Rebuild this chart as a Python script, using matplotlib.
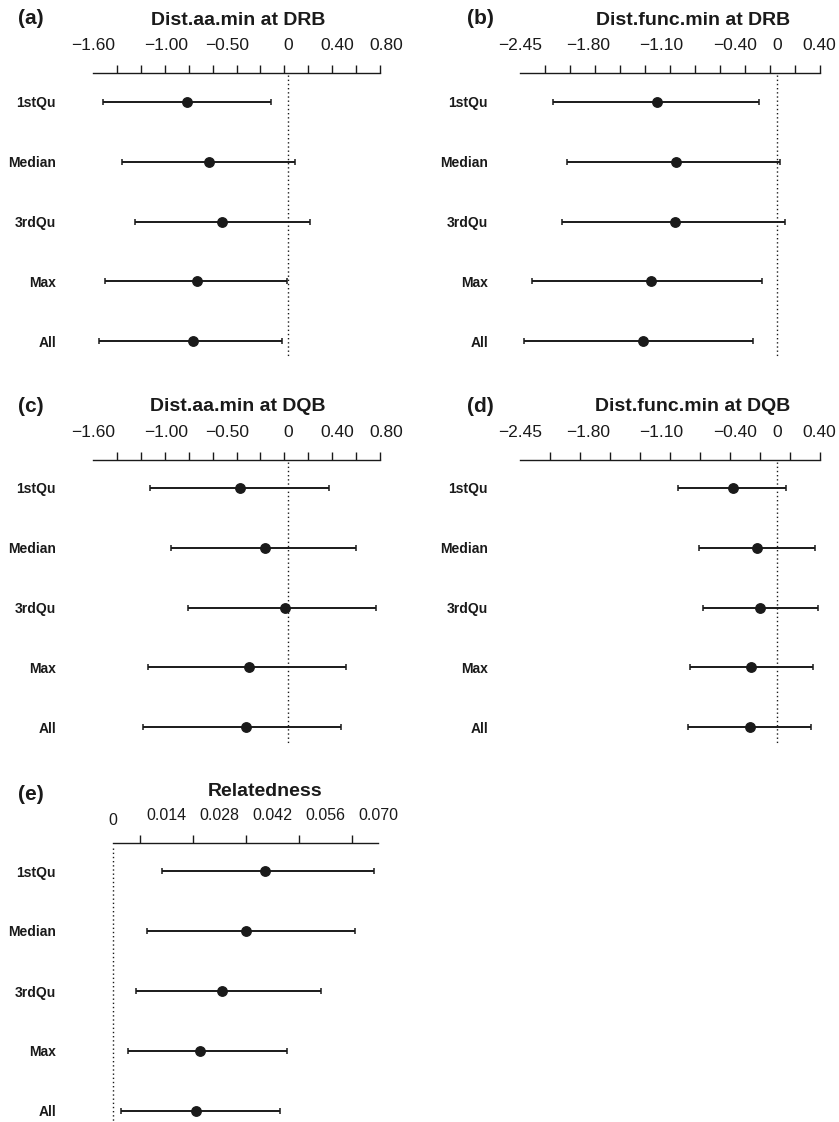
import matplotlib
matplotlib.use("Agg")
import matplotlib.pyplot as plt
import numpy as np

plt.rcParams['font.family'] = ['Liberation Sans', 'DejaVu Sans']

# ---------------- data ----------------
rows = ["1stQu", "Median", "3rdQu", "Max", "All"]

a_est = [-0.83, -0.65, -0.54, -0.75, -0.78]
a_lo = [-1.52, -1.36, -1.26, -1.50, -1.55]
a_hi = [-0.14, 0.05, 0.18, -0.01, -0.05]

b_est = [-1.14, -0.96, -0.97, -1.20, -1.28]
b_lo = [-2.14, -2.00, -2.05, -2.34, -2.41]
b_hi = [-0.17, 0.03, 0.08, -0.14, -0.23]

c_est = [-0.40, -0.19, -0.03, -0.32, -0.35]
c_lo = [-1.13, -0.96, -0.82, -1.15, -1.19]
c_hi = [0.33, 0.55, 0.72, 0.47, 0.43]

d_est = [-0.42, -0.19, -0.16, -0.25, -0.26]
d_lo = [-0.94, -0.74, -0.71, -0.83, -0.85]
d_hi = [0.09, 0.36, 0.39, 0.34, 0.32]

e_est = [0.0401, 0.0350, 0.0289, 0.0229, 0.0220]
e_lo = [0.0129, 0.0089, 0.0060, 0.0040, 0.0020]
e_hi = [0.0689, 0.0640, 0.0550, 0.0460, 0.0440]

aa_ticks = [-1.60, -1.00, -0.50, 0, 0.40, 0.80]
aa_labels = ["\u22121.60", "\u22121.00", "\u22120.50", "0", "0.40", "0.80"]
func_ticks = [-2.45, -1.80, -1.10, -0.40, 0, 0.40]
func_labels = ["\u22122.45", "\u22121.80", "\u22121.10", "\u22120.40", "0", "0.40"]
rel_ticks = [0, 0.014, 0.028, 0.042, 0.056, 0.070]
rel_labels = ["0", "0.014", "0.028", "0.042", "0.056", "0.070"]

titles = ["Dist.aa.min at DRB", "Dist.func.min at DRB",
          "Dist.aa.min at DQB", "Dist.func.min at DQB", "Relatedness"]
letters = ["(a)", "(b)", "(c)", "(d)", "(e)"]

# ---------------- layout ----------------
W, H = 839, 1122
fig = plt.figure(figsize=(W / 100, H / 100), dpi=100)
PT = 0.72  # points per pixel at dpi 100
ink = "#1a1a1a"


def panel(est, lo, hi, v_left, v_right, L, R, S, B, n_minor, ticks, labels,
          row_off, row_step, dot_top, dot_bot, label_right, tsize):
    ext = 16
    span = (v_right - v_left) / (R - L)
    xmax = v_right + ext * span
    ax = fig.add_axes([L / W, 1 - B / H, (R + ext - L) / W, (B - S) / H])
    ax.set_xlim(v_left, xmax)
    y_top = -row_off / row_step
    y_bot = (B - S - row_off) / row_step
    ax.set_ylim(y_bot, y_top)
    for s in ["left", "right", "bottom"]:
        ax.spines[s].set_visible(False)
    ax.spines["top"].set_bounds(v_left, v_right)
    ax.spines["top"].set_linewidth(1.0)
    ax.spines["top"].set_color(ink)
    ax.xaxis.set_ticks_position("top")
    ax.set_xticks(ticks)
    ax.set_xticklabels(labels)
    ax.set_xticks(np.linspace(v_left, v_right, n_minor), minor=True)
    ax.tick_params(axis="x", which="major", length=0, pad=20 * PT,
                   labelsize=tsize, labelcolor=ink)
    ax.tick_params(axis="x", which="minor", length=8 * PT, width=1.0,
                   color=ink, direction="out")
    ypos = np.arange(len(rows))
    ax.set_yticks(ypos)
    ax.set_yticklabels(rows, fontweight="bold")
    ax.tick_params(axis="y", length=0, pad=(L - label_right) * PT,
                   labelsize=10, labelcolor=ink)
    # dotted zero line
    ax.vlines(0, (dot_top - S - row_off) / row_step,
              (dot_bot - S - row_off) / row_step,
              colors=ink, linestyles=(0, (1, 2)), linewidth=1.0,
              clip_on=False)
    est = np.asarray(est)
    xerr = np.vstack([est - np.asarray(lo), np.asarray(hi) - est])
    ax.errorbar(est, ypos, xerr=xerr, fmt="o", color=ink, ecolor=ink,
                elinewidth=1.4, capsize=2.2, capthick=1.1, markersize=6.8,
                clip_on=False)
    ax.patch.set_alpha(0)
    return ax


axA = panel(a_est, a_lo, a_hi, -1.60, 0.75, 93, 380, 73, 360, 13,
            aa_ticks, aa_labels, 29, 59.8, 75, 357, 56, 12.5)
axB = panel(b_est, b_lo, b_hi, -2.45, 0.41, 520, 820, 73, 360, 13,
            func_ticks, func_labels, 29, 59.8, 75, 357, 488, 12.5)
axC = panel(c_est, c_lo, c_hi, -1.60, 0.75, 93, 380, 460, 748, 13,
            aa_ticks, aa_labels, 28, 59.8, 462, 745, 56, 12.5)
axD = panel(d_est, d_lo, d_hi, -2.45, 0.41, 520, 820, 460, 748, 11,
            func_ticks, func_labels, 28, 59.8, 462, 745, 488, 12.5)
axE = panel(e_est, e_lo, e_hi, 0.0, 0.070, 113, 378, 843, 1122, 11,
            rel_ticks, rel_labels, 28, 60.0, 848, 1122, 56, 11.5)
axE.xaxis.get_major_ticks()[0].set_pad(15 * PT)

# titles and panel letters
title_pos = [(238, 25), (693, 25), (238, 411), (693, 411), (265, 796)]
letter_pos = [(18, 24), (467, 24), (18, 412), (467, 412), (18, 800)]
for t, (x, y) in zip(titles, title_pos):
    fig.text(x / W, 1 - y / H, t, ha="center", va="baseline",
             fontsize=14, fontweight="bold", color=ink)
for t, (x, y) in zip(letters, letter_pos):
    fig.text(x / W, 1 - y / H, t, ha="left", va="baseline",
             fontsize=15, fontweight="bold", color=ink)

fig.savefig("out.png", dpi=100)
